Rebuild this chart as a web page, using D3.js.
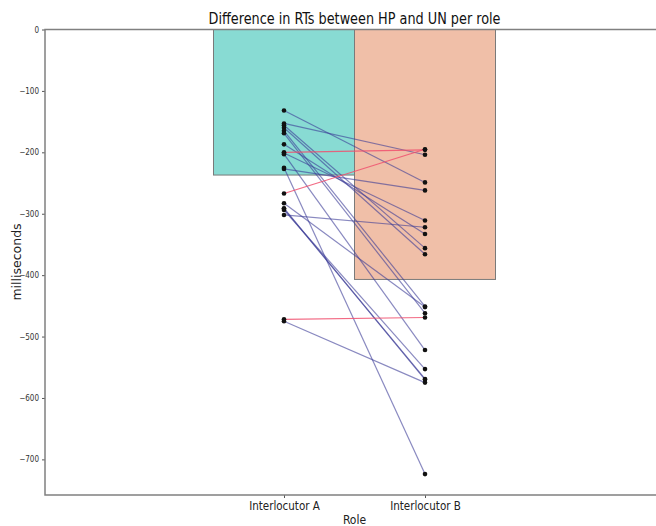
<!DOCTYPE html>
<html><head><meta charset="utf-8">
<script src="https://cdn.jsdelivr.net/npm/d3@7"></script>
<style>body{margin:0;background:#fff}</style>
</head><body>
<svg id="c" width="656" height="526"></svg>
<script>
const roles = ["Interlocutor A", "Interlocutor B"];
const barMeans = [-237, -407];
const valuesA = [-132, -153, -156, -160, -165, -169, -187, -200, -201, -203, -225, -227, -267, -283, -291, -292, -294, -302, -472, -475];
const valuesB = [-249, -204, -356, -366, -451, -462, -333, -196, -311, -522, -724, -262, -195, -452, -570, -569, -553, -322, -469, -575];
const yTicks = [0, -100, -200, -300, -400, -500, -600, -700];
const barColors = ["#88dbd3", "#f0bfa8"];

const svg = d3.select("#c");
const x = d3.scaleLinear().domain([-1.695, 2.695]).range([45, 664]);
const y = d3.scaleLinear().domain([-758, 0]).range([495, 29.5]);
const font = "'DejaVu Sans Condensed','DejaVu Sans',sans-serif";

// bars
svg.selectAll("rect.bar").data(barMeans).join("rect")
  .attr("x", (d,i)=>x(i-0.5)).attr("width", (d,i)=>x(i+0.5)-x(i-0.5))
  .attr("y", y(0)).attr("height", d=>y(d)-y(0))
  .attr("fill", (d,i)=>barColors[i]).attr("stroke", "#7a7a7a").attr("stroke-width", 1);

// lines
const pairs = valuesA.map((a,i)=>({a, b: valuesB[i]}));
svg.selectAll("line.pair").data(pairs).join("line")
  .attr("x1", x(0)).attr("x2", x(1))
  .attr("y1", d=>y(d.a)).attr("y2", d=>y(d.b))
  .attr("stroke", d=>d.b > d.a ? "#f0506e" : "#3a3a96")
  .attr("stroke-opacity", d=>d.b > d.a ? 0.85 : 0.6)
  .attr("stroke-width", 1.2);

// points
const pts = [];
valuesA.forEach(v=>pts.push({r:0, v}));
valuesB.forEach(v=>pts.push({r:1, v}));
svg.selectAll("circle.pt").data(pts).join("circle")
  .attr("cx", d=>x(d.r)).attr("cy", d=>y(d.v)).attr("r", 2.3).attr("fill", "#111");

// axes
const yAxis = d3.axisLeft(y).tickValues(yTicks).tickSize(3).tickPadding(3)
  .tickFormat(d=>d3.format("d")(d).replace("-", "\u2212"));
const gy = svg.append("g").attr("transform", "translate(45,0)").call(yAxis);
gy.select(".domain").remove();
gy.selectAll("line").attr("stroke", "#555");
gy.selectAll("text").attr("font-family", font).attr("font-size", 8).attr("fill", "#333");

const xAxis = d3.axisBottom(x).tickValues([0,1]).tickSize(3).tickPadding(4)
  .tickFormat(d=>roles[d]);
const gx = svg.append("g").attr("transform", "translate(0,495)").call(xAxis);
gx.select(".domain").remove();
gx.selectAll("line").attr("stroke", "#555");
gx.selectAll("text").attr("font-family", font).attr("font-size", 11.5).attr("fill", "#222");

// spines
svg.append("path").attr("d", `M${x(2.695)},29.5H45V495H${x(2.695)}`)
  .attr("fill", "none").attr("stroke", "#808080").attr("stroke-width", 1.5);

// labels
svg.append("text").attr("x", x(0.5)).attr("y", 24).attr("text-anchor", "middle")
  .attr("font-family", font).attr("font-size", 16).attr("fill", "#111")
  .attr("textLength", 292).attr("lengthAdjust", "spacingAndGlyphs")
  .text("Difference in RTs between HP and UN per role");
svg.append("text").attr("x", x(0.5)).attr("y", 524).attr("text-anchor", "middle")
  .attr("font-family", font).attr("font-size", 12).attr("fill", "#222").text("Role");
svg.append("text").attr("transform", "translate(21,262) rotate(-90)").attr("text-anchor", "middle")
  .attr("font-family", "'DejaVu Sans',sans-serif").attr("font-size", 12.5).attr("fill", "#222").text("milliseconds");
</script>
</body></html>
